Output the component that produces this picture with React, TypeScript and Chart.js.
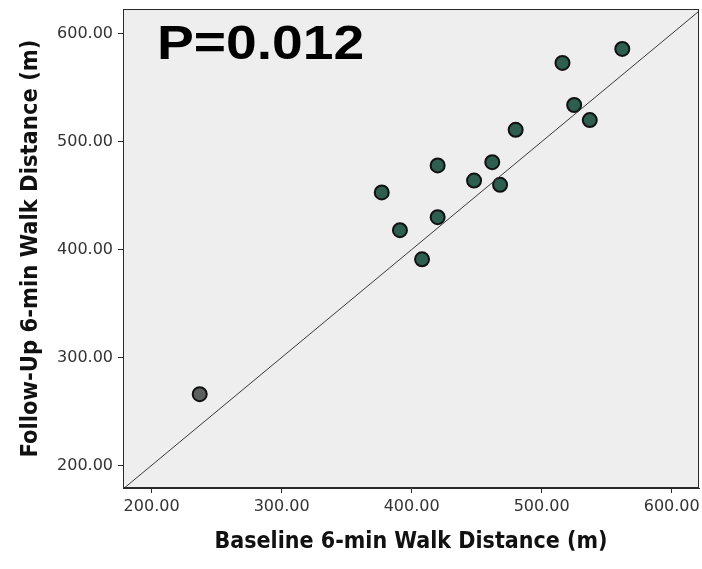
import React, { useEffect, useRef } from "react";
import { Chart, registerables } from "chart.js";

Chart.register(...registerables);

// Data
const baseline = [237, 377, 391, 408, 420, 420, 448, 462, 468, 480, 516, 525, 537, 562];
const followUp = [266, 453, 418, 391, 430, 478, 464, 481, 460, 511, 573, 534, 520, 586];
const pointGroup = ["gray", "teal", "teal", "teal", "teal", "teal", "teal", "teal", "teal", "teal", "teal", "teal", "teal", "teal"];
const xTicks = [200, 300, 400, 500, 600];
const yTicks = [200, 300, 400, 500, 600];
const xRange = [178, 621];
const yRange = [179, 623];
const identityLine = [178, 623];
const xTitle = "Baseline 6-min Walk Distance (m)";
const yTitle = "Follow-Up 6-min Walk Distance (m)";
const annotation = "P=0.012";

const groupColors: Record<string, string> = { gray: "#5b5f5d", teal: "#2d5e50" };

export default function App() {
  const ref = useRef<HTMLCanvasElement | null>(null);
  useEffect(() => {
    document.body.style.margin = "0";
    const canvas = ref.current;
    if (!canvas) return;

    const PLOT_RIGHT = 699;

    const bgPlugin = {
      id: "plotBg",
      afterLayout(chart: any) {
        const xs = chart.scales.x;
        const a = chart.chartArea;
        a.right = PLOT_RIGHT;
        a.width = PLOT_RIGHT - a.left;
        xs.right = PLOT_RIGHT;
        xs.width = PLOT_RIGHT - xs.left;
        xs.configure();
      },
      beforeDraw(chart: any) {
        const { ctx, chartArea: a } = chart;
        ctx.save();
        ctx.fillStyle = "#ffffff";
        ctx.fillRect(0, 0, chart.width, chart.height);
        ctx.fillStyle = "#eeeeee";
        ctx.fillRect(a.left, a.top, a.right - a.left, a.bottom - a.top);
        ctx.restore();
      },
      afterDraw(chart: any) {
        const { ctx, chartArea: a } = chart;
        ctx.save();
        ctx.strokeStyle = "#2a2a2a";
        ctx.lineWidth = 1;
        ctx.strokeRect(a.left + 0.5, a.top + 0.5, a.right - a.left - 1, a.bottom - a.top - 1);
        ctx.fillStyle = "#000000";
        ctx.font = "bold 48px 'Liberation Sans', Arial, sans-serif";
        ctx.textBaseline = "alphabetic";
        ctx.translate(157, 59);
        ctx.scale(1.15, 1);
        ctx.fillText(annotation, 0, 0);
        ctx.restore();
      },
    };

    const tickFont = { family: "'DejaVu Sans', sans-serif", size: 16 };
    const titleFont = { family: "'DejaVu Sans Condensed', 'DejaVu Sans', sans-serif", size: 23, weight: "bold" as const };
    const yTitleFont = { family: "'DejaVu Sans Condensed', 'DejaVu Sans', sans-serif", size: 23.5, weight: "bold" as const };

    const chart = new Chart(canvas, {
      type: "scatter",
      data: {
        datasets: [
          {
            type: "line",
            data: identityLine.map((v) => ({ x: v, y: v })),
            borderColor: "#3a3a3a",
            borderWidth: 1,
            pointRadius: 0,
            fill: false,
          } as any,
          {
            data: baseline.map((x, i) => ({ x, y: followUp[i] })),
            pointRadius: 7,
            pointHoverRadius: 7,
            pointBorderWidth: 2,
            pointBorderColor: "#111111",
            pointBackgroundColor: pointGroup.map((g) => groupColors[g]),
          },
        ],
      },
      options: {
        responsive: false,
        animation: false,
        layout: { padding: { left: 0, right: 3, top: 8, bottom: 0 } },
        plugins: { legend: { display: false }, tooltip: { enabled: false } },
        scales: {
          x: {
            type: "linear",
            min: xRange[0],
            max: xRange[1],
            afterBuildTicks: (s: any) => { s.ticks = xTicks.map((v) => ({ value: v })); },
            afterFit: (s: any) => { s.height = 81; s.paddingRight = 0; s.paddingLeft = 0; s.paddingTop = 0; s.paddingBottom = 0; },
            grid: { drawOnChartArea: false, drawTicks: true, tickLength: 5, color: "#2a2a2a" },
            border: { display: true, color: "#2a2a2a" },
            ticks: { font: tickFont, color: "#333333", padding: 4, maxRotation: 0, callback: (v: any) => Number(v).toFixed(2) },
            title: { display: true, text: xTitle, font: titleFont, color: "#111111", padding: { top: 0, bottom: 13 } },
          },
          y: {
            type: "linear",
            min: yRange[0],
            max: yRange[1],
            afterBuildTicks: (s: any) => { s.ticks = yTicks.map((v) => ({ value: v })); },
            afterFit: (s: any) => { s.width = 123; s.paddingRight = 0; s.paddingLeft = 0; s.paddingTop = 0; s.paddingBottom = 0; },
            grid: { drawOnChartArea: false, drawTicks: true, tickLength: 5, color: "#2a2a2a" },
            border: { display: true, color: "#2a2a2a" },
            ticks: { font: tickFont, color: "#333333", padding: 5, callback: (v: any) => Number(v).toFixed(2) },
            title: { display: true, text: yTitle, font: yTitleFont, color: "#111111", padding: { top: 17, bottom: 0 } },
          },
        },
      },
      plugins: [bgPlugin],
    });
    return () => chart.destroy();
  }, []);

  return (
    <div style={{ width: 702, height: 569 }}>
      <canvas ref={ref} width={702} height={569} style={{ display: "block" }} />
    </div>
  );
}
